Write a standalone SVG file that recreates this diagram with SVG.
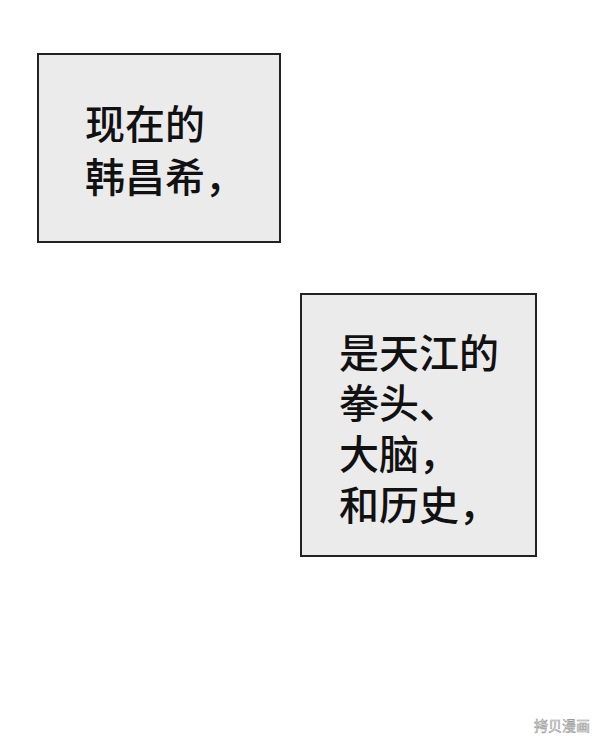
<svg xmlns="http://www.w3.org/2000/svg" width="600" height="741" viewBox="0 0 600 741">
<style>
.box{fill:#ebebeb;stroke:#222;stroke-width:2}
.t{font-family:"Noto Sans CJK SC","Noto Sans",sans-serif;font-size:40px;font-weight:500;fill:#111}
.wm{font-family:"Noto Sans CJK SC",sans-serif;font-size:14px;fill:#fff;stroke:#999;stroke-width:0.6}
</style>
<rect width="600" height="741" fill="#fff"/>
<g id="box1">
<rect class="box" x="38" y="54" width="242" height="188"/>
<text class="t" x="85" y="139">现在的</text>
<text class="t" x="85" y="192">韩昌希，</text>
</g>
<g id="box2">
<rect class="box" x="301" y="294" width="235" height="262"/>
<text class="t" x="339" y="368">是天江的</text>
<text class="t" x="339" y="418">拳头、</text>
<text class="t" x="339" y="469">大脑，</text>
<text class="t" x="339" y="520">和历史，</text>
</g>
<g id="connectors"/>
<text class="wm" x="534" y="731">拷贝漫画</text>
</svg>
